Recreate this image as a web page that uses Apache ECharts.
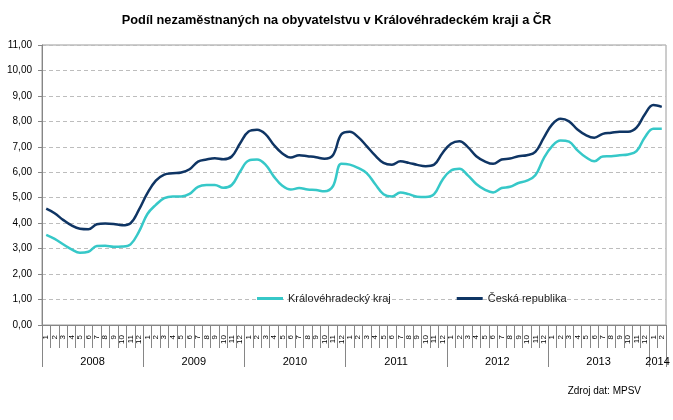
<!DOCTYPE html>
<html>
<head>
<meta charset="utf-8">
<script src="https://cdn.jsdelivr.net/npm/echarts@6/dist/echarts.min.js"></script>
<style>html,body{margin:0;padding:0;background:#fff}#c{width:673px;height:420px}</style>
</head>
<body>
<div id="c"></div>
<script>
const years = ['2008','2009','2010','2011','2012','2013','2014'];
const monthsPerYear = [12,12,12,12,12,12,2];
const seriesNames = ['Královéhradecký kraj','Česká republika'];
const kraj = [3.54,3.38,3.17,2.97,2.84,2.88,3.10,3.11,3.07,3.08,3.17,3.67,
  4.36,4.72,4.98,5.05,5.05,5.15,5.43,5.50,5.50,5.39,5.50,6.03,
  6.46,6.50,6.30,5.83,5.47,5.32,5.38,5.32,5.30,5.25,5.45,6.33,
  6.30,6.17,5.97,5.54,5.14,5.05,5.21,5.14,5.04,5.03,5.14,5.71,
  6.07,6.14,5.88,5.54,5.32,5.21,5.38,5.43,5.58,5.67,5.88,6.55,
  7.03,7.25,7.20,6.86,6.59,6.43,6.62,6.63,6.67,6.70,6.83,7.38,
  7.71,7.71];
const cr = [4.57,4.39,4.13,3.91,3.78,3.76,3.96,3.99,3.97,3.92,4.00,4.53,
  5.18,5.67,5.91,5.96,5.99,6.12,6.42,6.50,6.55,6.51,6.62,7.14,
  7.60,7.67,7.50,7.07,6.74,6.58,6.67,6.63,6.59,6.53,6.67,7.49,
  7.59,7.38,7.03,6.66,6.37,6.30,6.43,6.37,6.29,6.24,6.30,6.76,
  7.12,7.22,6.99,6.63,6.43,6.33,6.50,6.54,6.63,6.67,6.80,7.35,
  7.88,8.10,8.00,7.68,7.46,7.36,7.51,7.55,7.59,7.59,7.75,8.28,
  8.64,8.57];

// build categories and year boundaries
const categories = [];
const yearBounds = [0];
const yearMids = [];
let acc = 0;
years.forEach((y, k) => {
  for (let m = 1; m <= monthsPerYear[k]; m++) categories.push(y + '-' + m);
  yearMids.push(acc + monthsPerYear[k] / 2);
  acc += monthsPerYear[k];
  yearBounds.push(acc);
});
const total = acc;

const chart = echarts.init(document.getElementById('c'), null, {renderer: 'canvas'});
const FONT = 'Liberation Sans, Arial, sans-serif';
chart.setOption({
  animation: false,
  backgroundColor: '#ffffff',
  title: {
    text: 'Podíl nezaměstnaných na obyvatelstvu v Královéhradeckém kraji a ČR',
    left: 'center', top: 9,
    textStyle: {fontFamily: FONT, fontSize: 12.8, fontWeight: 'bold', color: '#000'}
  },
  legend: {
    left: 252, top: 288,
    itemWidth: 26, itemHeight: 3, itemGap: 66,
    icon: 'rect',
    textStyle: {fontFamily: FONT, fontSize: 11, color: '#222'},
    data: seriesNames
  },
  grid: {left: 42, right: 7, top: 45, bottom: 95, show: true, borderColor: '#9a9a9a', borderWidth: 1},
  xAxis: [{
    type: 'category',
    data: categories,
    boundaryGap: true,
    axisLine: {lineStyle: {color: '#868686'}},
    axisTick: {show: true, length: 23, interval: 0, lineStyle: {color: '#868686'}},
    axisLabel: {
      interval: 0, rotate: 90, margin: 10,
      fontFamily: FONT, fontSize: 8, color: '#000',
      formatter: v => v.split('-')[1]
    },
    splitLine: {show: false}
  }, {
    type: 'value',
    min: 0, max: total,
    position: 'bottom',
    axisLine: {show: false},
    axisTick: {show: true, length: 42, customValues: yearBounds, lineStyle: {color: '#868686'}},
    axisLabel: {
      customValues: yearMids, margin: 31,
      fontFamily: FONT, fontSize: 11, color: '#000',
      formatter: v => years[yearMids.indexOf(v)] || ''
    },
    splitLine: {show: false}
  }],
  yAxis: {
    type: 'value', min: 0, max: 11, interval: 1,
    axisLine: {show: true, lineStyle: {color: '#868686'}},
    axisTick: {show: true, length: 4, lineStyle: {color: '#868686'}},
    axisLabel: {
      margin: 10, fontFamily: FONT, fontSize: 10, color: '#000',
      formatter: v => v.toFixed(2).replace('.', ',')
    },
    splitLine: {show: true, lineStyle: {color: '#bdbdbd', type: [4, 3], width: 1}}
  },
  series: [{
    name: seriesNames[0], type: 'line', data: kraj, xAxisIndex: 0,
    smooth: 0.4, symbol: 'none',
    lineStyle: {color: '#36c8c8', width: 2.5},
    itemStyle: {color: '#36c8c8'}
  }, {
    name: seriesNames[1], type: 'line', data: cr, xAxisIndex: 0,
    smooth: 0.4, symbol: 'none',
    lineStyle: {color: '#0f3564', width: 2.5},
    itemStyle: {color: '#0f3564'}
  }],
  graphic: [{
    type: 'text', right: 32, top: 386,
    style: {text: 'Zdroj dat: MPSV', font: '10px ' + FONT, fill: '#000'}
  }]
});
</script>
</body>
</html>
